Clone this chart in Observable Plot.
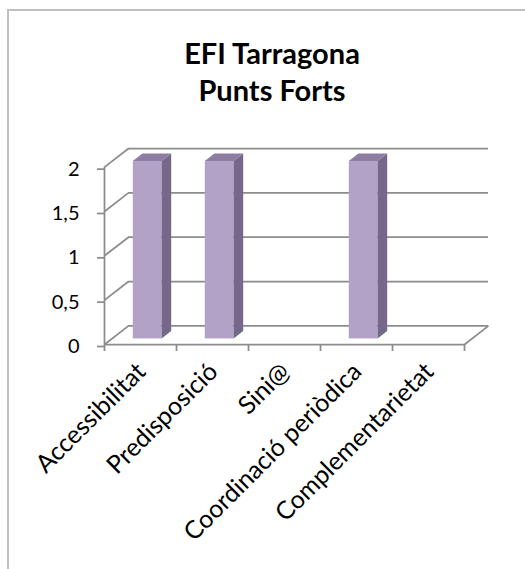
<!DOCTYPE html>
<html>
<head>
<meta charset="utf-8">
<script src="https://cdn.jsdelivr.net/npm/d3@7"></script>
<script src="https://cdn.jsdelivr.net/npm/@observablehq/plot@0.6"></script>
<style>
  html, body { margin: 0; padding: 0; background: #fff; }
  #wrap { position: relative; width: 525px; height: 569px; overflow: hidden; background: #fff; }
  #border { position: absolute; left: 7px; top: 9px; width: 700px; height: 700px;
            border-left: 2px solid #c0c0c0; border-top: 2px solid #c0c0c0; }
  #title { position: absolute; left: 0; top: 34px; width: 544px; text-align: center;
           font-family: Lato, "Open Sans", sans-serif; font-weight: bold; font-size: 29px;
           line-height: 37px; color: #000; }
  #chart { position: absolute; left: 0; top: 0; }
</style>
</head>
<body>
<div id="wrap">
  <div id="border"></div>
  <div id="chart"></div>
  <div id="title">EFI Tarragona<br>Punts Forts</div>
</div>
<script>
// ---- data ----
const categories = ["Accessibilitat", "Predisposició", "Sini@", "Coordinació periòdica", "Complementarietat"];
const values = [2, 2, 0, 2, 0];
const yTicks = [0, 0.5, 1, 1.5, 2];
const yTickLabels = ["0", "0,5", "1", "1,5", "2"];
const xTicks = [0, 1, 2, 3, 4, 5];

// ---- oblique depth (in data units) ----
const DX = 1 / 3, DY = 0.21, D0 = 0.3, D1 = 0.7, HALF = 0.2;
const yMax = 2;

const bars = categories.map((c, i) => ({c, i, v: values[i]})).filter(d => d.v > 0);
const frontFaces = bars.map(d => ({
  c: d.c,
  x1: d.i + 0.5 - HALF + D0 * DX, x2: d.i + 0.5 + HALF + D0 * DX,
  y1: D0 * DY, y2: d.v + D0 * DY
}));
const sideFaces = bars.flatMap(d => [
  {c: d.c, x: d.i + 0.5 + HALF + D0 * DX, y1: D0 * DY, y2: d.v + D0 * DY},
  {c: d.c, x: d.i + 0.5 + HALF + D1 * DX, y1: D1 * DY, y2: d.v + D1 * DY}
]);
const topFaces = bars.flatMap(d => [
  {c: d.c, y: d.v + D0 * DY, x1: d.i + 0.5 - HALF + D0 * DX, x2: d.i + 0.5 + HALF + D0 * DX},
  {c: d.c, y: d.v + D1 * DY, x1: d.i + 0.5 - HALF + D1 * DX, x2: d.i + 0.5 + HALF + D1 * DX}
]);
const labelRows = categories.map((c, i) => ({c, x: i + 0.5}));

const grid = "#8c8c8c";
const font = "Lato, 'Open Sans', sans-serif";

const chart = Plot.plot({
  width: 525,
  height: 569,
  marginLeft: 104,
  marginRight: 37,
  marginTop: 148,
  marginBottom: 225,
  style: {fontFamily: font, background: "transparent", overflow: "visible"},
  x: {domain: [0, categories.length + DX], axis: null},
  y: {domain: [0, yMax + DY], axis: null},
  marks: [
    // back wall gridlines
    Plot.ruleY(yTicks, {y: d => d + DY, x1: DX, x2: categories.length + DX, stroke: grid, strokeWidth: 1.75, strokeOpacity: 1}),
    // side wall diagonals
    Plot.link(yTicks, {x1: 0, y1: d => d, x2: DX, y2: d => d + DY, stroke: grid, strokeWidth: 1.75, strokeOpacity: 1}),
    // floor right diagonal
    Plot.link([categories.length], {x1: d => d, y1: 0, x2: d => d + DX, y2: DY, stroke: grid, strokeWidth: 1.75, strokeOpacity: 1}),
    // front axes
    Plot.ruleY([0], {x1: 0, x2: categories.length, stroke: grid, strokeWidth: 1.75, strokeOpacity: 1}),
    Plot.ruleX([0], {y1: 0, y2: yMax, stroke: grid, strokeWidth: 1.75, strokeOpacity: 1}),
    Plot.axisY({ticks: yTicks, tickFormat: d => yTickLabels[yTicks.indexOf(d)], tickSize: 7, tickPadding: 18,
      stroke: grid, strokeWidth: 1.75, strokeOpacity: 1, fontSize: 20, fill: "#000", dy: 2}),
    Plot.axisX({ticks: xTicks, tickSize: 7, tickFormat: () => "", stroke: grid, strokeWidth: 1.75, strokeOpacity: 1}),
    // bars
    Plot.rect(frontFaces, {x1: "x1", x2: "x2", y1: "y1", y2: "y2", fill: "#b3a2c7"}),
    Plot.areaY(sideFaces, {x: "x", y1: "y1", y2: "y2", z: "c", fill: "#76688b"}),
    Plot.areaX(topFaces, {y: "y", x1: "x1", x2: "x2", z: "c", fill: "#8d7da3"}),
    // category labels
    Plot.text(labelRows, {x: "x", y: 0, text: "c", rotate: -45, textAnchor: "end", dx: 1, dy: 23,
      fontSize: 25, fill: "#000"})
  ]
});
document.getElementById("chart").appendChild(chart);
</script>
</body>
</html>
